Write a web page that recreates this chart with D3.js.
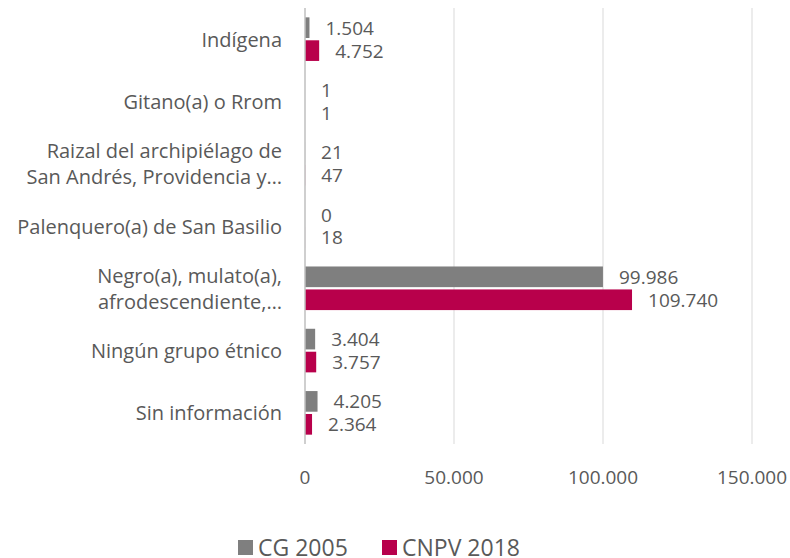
<!doctype html>
<html>
<head>
<script src="https://cdnjs.cloudflare.com/ajax/libs/d3/7.8.5/d3.min.js"></script>
<style>
  body { margin: 0; background: #fff; }
  text { font-family: "Open Sans", "Noto Sans", sans-serif; fill: #595959; }
  .grid line { stroke: #d9d9d9; stroke-width: 1; }
  .zero { stroke: #bfbfbf; stroke-width: 1.5; }
</style>
</head>
<body>
<svg id="chart" width="790" height="558"></svg>
<script>
// categories, lines split with "|"
const categories = [
  "Indígena",
  "Gitano(a) o Rrom",
  "Raizal del archipiélago de|San Andrés, Providencia y…",
  "Palenquero(a) de San Basilio",
  "Negro(a), mulato(a),|afrodescendiente,…",
  "Ningún grupo étnico",
  "Sin información"
];
const seriesNames = ["CG 2005", "CNPV 2018"];
const cg2005 = [1504, 1, 21, 0, 99986, 3404, 4205];
const cnpv2018 = [4752, 1, 47, 18, 109740, 3757, 2364];
const xTicks = [0, 50000, 100000, 150000];
const colors = ["#7f7f7f", "#b8004b"];

const fmt = d3.formatLocale({decimal: ",", thousands: ".", grouping: [3], currency: ["$", ""]}).format(",d");

const svg = d3.select("#chart");
const catFs = 20, numFs = 19;

const x = d3.scaleLinear().domain([0, 150000]).range([305, 752]);
const y0 = d3.scaleBand().domain(categories).range([8, 444]).paddingInner(0.3).paddingOuter(0.15);
const y1 = d3.scaleBand().domain(seriesNames).range([0, y0.bandwidth()]).paddingInner(0.1);

// gridlines
svg.append("g").attr("class", "grid")
  .selectAll("line").data(xTicks.slice(1)).enter().append("line")
  .attr("x1", d => x(d)).attr("x2", d => x(d))
  .attr("y1", 8).attr("y2", 444);

// x tick labels
svg.append("g").selectAll("text").data(xTicks).enter().append("text")
  .attr("x", d => x(d)).attr("y", 477)
  .attr("text-anchor", "middle").attr("dominant-baseline", "central")
  .style("font-size", numFs + "px")
  .text(d => fmt(d));

// bars
const rows = categories.map((c, i) => ({cat: c, vals: [cg2005[i], cnpv2018[i]]}));
const groups = svg.append("g").selectAll("g").data(rows).enter().append("g")
  .attr("transform", d => `translate(0,${y0(d.cat)})`);

groups.selectAll("rect").data(d => d.vals.map((v, j) => ({v, s: seriesNames[j], j})))
  .enter().append("rect")
  .attr("x", x(0))
  .attr("y", d => y1(d.s))
  .attr("width", d => x(d.v) - x(0))
  .attr("height", y1.bandwidth())
  .attr("fill", d => colors[d.j]);

groups.selectAll("text.value").data(d => d.vals.map((v, j) => ({v, s: seriesNames[j], j})))
  .enter().append("text").attr("class", "value")
  .attr("x", d => x(d.v) + 16)
  .attr("y", d => y1(d.s) + y1.bandwidth() / 2)
  .attr("dominant-baseline", "central")
  .style("font-size", numFs + "px")
  .text(d => fmt(d.v));

// zero axis line
svg.append("line").attr("class", "zero")
  .attr("x1", x(0)).attr("x2", x(0)).attr("y1", 8).attr("y2", 444);

// category labels
const lineH = 26;
svg.append("g").selectAll("text").data(categories).enter().append("text")
  .attr("text-anchor", "end")
  .style("font-size", catFs + "px")
  .each(function(d) {
    const lines = d.split("|");
    const cy = y0(d) + y0.bandwidth() / 2;
    const t = d3.select(this);
    lines.forEach((ln, k) => {
      t.append("tspan")
        .attr("x", 282)
        .attr("y", cy + (k - (lines.length - 1) / 2) * lineH)
        .attr("dominant-baseline", "central")
        .text(ln);
    });
  });

// legend
const legendX = [238, 382];
const leg = svg.append("g").selectAll("g").data(seriesNames).enter().append("g")
  .attr("transform", (d, i) => `translate(${legendX[i]},547)`);
leg.append("rect").attr("x", 0).attr("y", -7).attr("width", 15).attr("height", 15)
  .attr("fill", (d, i) => colors[i]);
leg.append("text").attr("x", 20).attr("y", 0)
  .attr("dominant-baseline", "central")
  .style("font-size", "23px")
  .text(d => d);
</script>
</body>
</html>
